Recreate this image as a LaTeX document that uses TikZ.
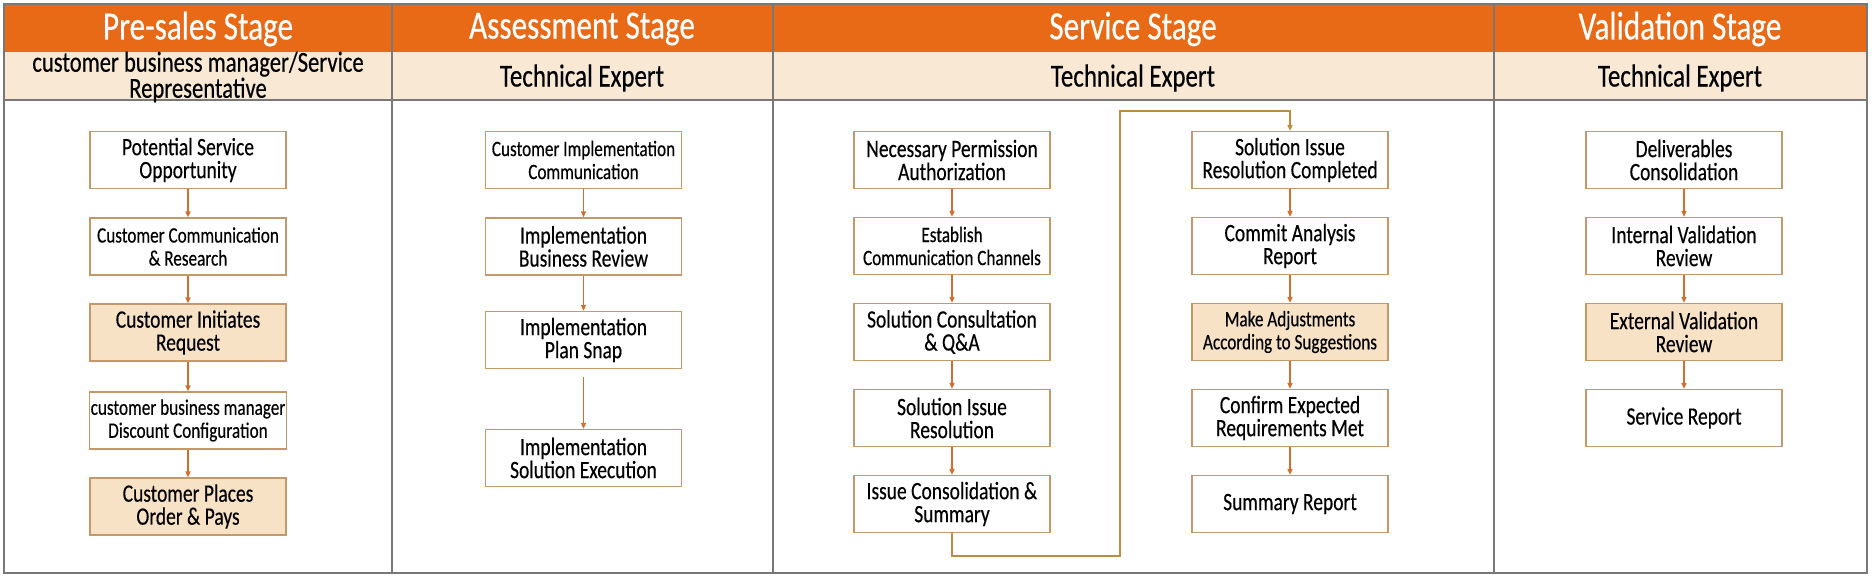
\documentclass[tikz,border=0pt]{standalone}
\usepackage{fontspec}
\setmainfont[FakeStretch=0.78,FakeBold=0.35]{Carlito}
\usetikzlibrary{arrows.meta}
\definecolor{hdr}{RGB}{232,106,22}
\definecolor{band}{RGB}{249,233,212}
\definecolor{hl}{RGB}{248,226,198}
\definecolor{boxline}{RGB}{196,152,104}
\definecolor{arr}{RGB}{208,112,48}
\definecolor{route}{RGB}{190,140,62}
\definecolor{grid}{RGB}{120,120,120}
\tikzset{
  stepbox/.style={draw=boxline, line width=1.2pt, fill=white, minimum width=196pt,
    minimum height=57pt, align=center, inner sep=1pt, font=\fontsize{25}{23}\selectfont},
  hlbox/.style={stepbox, fill=hl},
  smalltxt/.style={font=\fontsize{22}{23}\selectfont},
  flow/.style={draw=arr, line width=1.5pt, -{Triangle[length=6pt,width=5pt]}},
  routeline/.style={draw=route, line width=1.6pt, -{Triangle[length=6pt,width=5pt]}},
  stagetitle/.style={text=white, font=\fontsize{40}{40}\selectfont},
  roletxt/.style={align=center, font=\fontsize{32}{26}\selectfont}
}
\begin{document}
\begin{tikzpicture}[x=1pt,y=-1pt]
\useasboundingbox (0,0) rectangle (1872,576);
\fill[white] (0,0) rectangle (1872,576);
% header bands
\fill[hdr] (4,4) rectangle (1867,52);
\fill[band] (4,52) rectangle (1867,100);
\draw[grid, line width=1.2pt] (4,100) -- (1867,100);
\foreach \x in {392,773,1494} \draw[grid, line width=1.4pt] (\x,4) -- (\x,573);
\draw[grid, line width=1.6pt] (4,4) rectangle (1867,573);
% stage titles
\node[stagetitle] (t1) at (198,29) {Pre-sales Stage};
\node[stagetitle] (t2) at (582,29) {Assessment Stage};
\node[stagetitle] (t3) at (1133,29) {Service Stage};
\node[stagetitle] (t4) at (1680,29) {Validation Stage};
% roles
\node[roletxt, font=\fontsize{29}{26}\selectfont] (r1) at (198,77) {customer business manager/Service\\Representative};
\node[roletxt] (r2) at (582,78) {Technical Expert};
\node[roletxt] (r3) at (1133,78) {Technical Expert};
\node[roletxt] (r4) at (1680,78) {Technical Expert};
% column 1
\node[stepbox] (a1) at (188,160) {Potential Service\\Opportunity};
\node[stepbox, smalltxt] (a2) at (188,246.5) {Customer Communication\\\& Research};
\node[hlbox] (a3) at (188,332.5) {Customer Initiates\\Request};
\node[stepbox, smalltxt] (a4) at (188,420.5) {customer business manager\\Discount Configuration};
\node[hlbox] (a5) at (188,506.5) {Customer Places\\Order \& Pays};
\draw[flow] (a1) -- (a2);
\draw[flow] (a2) -- (a3);
\draw[flow] (a3) -- (a4);
\draw[flow] (a4) -- (a5);
% column 2
\node[stepbox, smalltxt] (b1) at (583.5,160) {Customer Implementation\\Communication};
\node[stepbox] (b2) at (583.5,246.5) {Implementation\\Business Review};
\node[stepbox] (b3) at (583.5,340) {Implementation\\Plan Snap};
\node[stepbox] (b4) at (583.5,458) {Implementation\\Solution Execution};
\draw[flow] (b1) -- (b2);
\draw[flow] (b2) -- (b3);
\draw[flow] (b3.south) ++(0,8) coordinate (b3s) (b3s) -- (b4);
% column 3 left
\node[stepbox] (c1) at (952,160) {Necessary Permission\\Authorization};
\node[stepbox, smalltxt] (c2) at (952,246) {Establish\\Communication Channels};
\node[stepbox] (c3) at (952,332) {Solution Consultation\\\& Q\&A};
\node[stepbox] (c4) at (952,418) {Solution Issue\\Resolution};
\node[stepbox] (c5) at (952,504) {Issue Consolidation \&\\Summary};
\draw[flow] (c1) -- (c2);
\draw[flow] (c2) -- (c3);
\draw[flow] (c3) -- (c4);
\draw[flow] (c4) -- (c5);
% column 3 right
\node[stepbox] (d1) at (1290,160) {Solution Issue\\Resolution Completed};
\node[stepbox] (d2) at (1290,246) {Commit Analysis\\Report};
\node[hlbox, smalltxt] (d3) at (1290,332) {Make Adjustments\\According to Suggestions};
\node[stepbox] (d4) at (1290,418) {Confirm Expected\\Requirements Met};
\node[stepbox] (d5) at (1290,504) {Summary Report};
\draw[flow] (d1) -- (d2);
\draw[flow] (d2) -- (d3);
\draw[flow] (d3) -- (d4);
\draw[flow] (d4) -- (d5);
\coordinate (k1) at (1120,556);
\coordinate (k2) at (1120,111);
\draw[routeline] (c5.south) |- (k1) -- (k2) -| (d1.north);
% column 4
\node[stepbox] (e1) at (1684,160) {Deliverables\\Consolidation};
\node[stepbox] (e2) at (1684,246) {Internal Validation\\Review};
\node[hlbox] (e3) at (1684,332) {External Validation\\Review};
\node[stepbox] (e4) at (1684,418) {Service Report};
\draw[flow] (e1) -- (e2);
\draw[flow] (e2) -- (e3);
\draw[flow] (e3) -- (e4);
\end{tikzpicture}
\end{document}
